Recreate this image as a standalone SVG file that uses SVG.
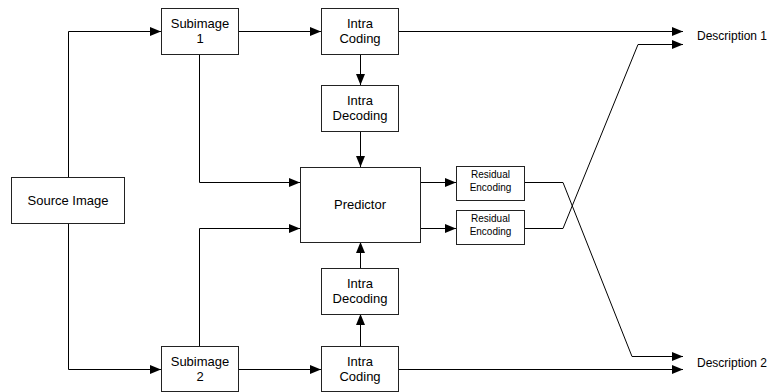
<svg xmlns="http://www.w3.org/2000/svg" width="781" height="392" viewBox="0 0 781 392">
  <defs>
    <marker id="arrow" markerUnits="userSpaceOnUse" markerWidth="12" markerHeight="10" refX="11" refY="4.5" orient="auto">
      <path d="M0,0 L11,4.5 L0,9 Z" fill="#000"/>
    </marker>
  </defs>
  <style>
    .box { fill: #fff; stroke: #222; stroke-width: 1; }
    .lbl { font-family: "Liberation Sans", Arial, sans-serif; font-size: 13px; fill: #000; text-anchor: middle; }
    .sm { font-size: 10px; }
    .desc { font-family: "Liberation Sans", Arial, sans-serif; font-size: 12px; fill: #000; }
    .wire { fill: none; stroke: #000; stroke-width: 1; }
    .arr { marker-end: url(#arrow); }
  </style>
  <rect width="781" height="392" fill="#fff"/>

  <!-- connectors -->
  <g id="connectors">
    <polyline class="wire arr" points="68.5,177 68.5,31.5 161,31.5"/>
    <polyline class="wire arr" points="68.5,223 68.5,369.5 161,369.5"/>
    <line class="wire arr" x1="238" y1="31.5" x2="321" y2="31.5"/>
    <line class="wire arr" x1="238" y1="369.5" x2="321" y2="369.5"/>
    <polyline class="wire arr" points="199.5,54 199.5,182.5 300,182.5"/>
    <polyline class="wire arr" points="199.5,346 199.5,228.5 300,228.5"/>
    <line class="wire arr" x1="360.5" y1="54" x2="360.5" y2="85"/>
    <line class="wire arr" x1="360.5" y1="131" x2="360.5" y2="167"/>
    <line class="wire arr" x1="360.5" y1="346" x2="360.5" y2="314"/>
    <line class="wire arr" x1="360.5" y1="268" x2="360.5" y2="242"/>
    <line class="wire arr" x1="420" y1="182.5" x2="456" y2="182.5"/>
    <line class="wire arr" x1="420" y1="228.5" x2="456" y2="228.5"/>
    <line class="wire arr" x1="398" y1="31.5" x2="683" y2="31.5"/>
    <line class="wire arr" x1="398" y1="369.5" x2="683" y2="369.5"/>
    <polyline class="wire arr" points="524,228.5 563,228.5 638,44.5 683,44.5"/>
    <polyline class="wire arr" points="524,182.5 563,182.5 632,356.5 683,356.5"/>
  </g>

  <g id="source-image">
    <rect class="box" x="11.5" y="177.5" width="113" height="46"/>
    <text class="lbl" x="68" y="205">Source Image</text>
  </g>
  <g id="subimage-1">
    <rect class="box" x="161.5" y="8.5" width="77" height="46"/>
    <text class="lbl" x="200" y="28">Subimage</text>
    <text class="lbl" x="200" y="43">1</text>
  </g>
  <g id="subimage-2">
    <rect class="box" x="161.5" y="346.5" width="77" height="45"/>
    <text class="lbl" x="200" y="366">Subimage</text>
    <text class="lbl" x="200" y="381">2</text>
  </g>
  <g id="intra-coding-1">
    <rect class="box" x="321.5" y="8.5" width="77" height="46"/>
    <text class="lbl" x="360" y="28">Intra</text>
    <text class="lbl" x="360" y="43">Coding</text>
  </g>
  <g id="intra-decoding-1">
    <rect class="box" x="321.5" y="85.5" width="77" height="46"/>
    <text class="lbl" x="360" y="105">Intra</text>
    <text class="lbl" x="360" y="120">Decoding</text>
  </g>
  <g id="predictor">
    <rect class="box" x="300.5" y="167.5" width="120" height="75"/>
    <text class="lbl" x="360" y="209">Predictor</text>
  </g>
  <g id="intra-decoding-2">
    <rect class="box" x="321.5" y="268.5" width="77" height="46"/>
    <text class="lbl" x="360" y="288">Intra</text>
    <text class="lbl" x="360" y="303">Decoding</text>
  </g>
  <g id="intra-coding-2">
    <rect class="box" x="321.5" y="346.5" width="77" height="45"/>
    <text class="lbl" x="360" y="366">Intra</text>
    <text class="lbl" x="360" y="381">Coding</text>
  </g>
  <g id="residual-encoding-1">
    <rect class="box" x="456.5" y="166.5" width="68" height="34"/>
    <text class="lbl sm" x="490.5" y="178">Residual</text>
    <text class="lbl sm" x="490.5" y="191">Encoding</text>
  </g>
  <g id="residual-encoding-2">
    <rect class="box" x="456.5" y="210.5" width="68" height="34"/>
    <text class="lbl sm" x="490.5" y="222">Residual</text>
    <text class="lbl sm" x="490.5" y="235">Encoding</text>
  </g>
  <g id="description-1">
    <text class="desc" x="697" y="40">Description 1</text>
  </g>
  <g id="description-2">
    <text class="desc" x="697" y="367">Description 2</text>
  </g>
</svg>
